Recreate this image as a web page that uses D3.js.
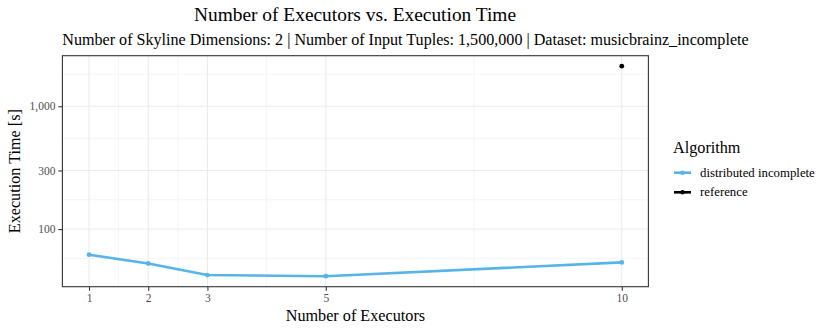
<!DOCTYPE html>
<html><head><meta charset="utf-8">
<script src="https://cdn.jsdelivr.net/npm/d3@7"></script>
<style>body{margin:0;background:#fff}svg{display:block}text{font-family:"Liberation Serif","Times New Roman",serif}</style>
</head><body><svg id="c" width="830" height="332"></svg>
<script>
const executors = [1, 2, 3, 5, 10];
const distributedIncomplete = [61.8, 52.4, 42.2, 41.3, 53.5];
const referenceX = [10];
const referenceY = [2120];
const xTicks = [1, 2, 3, 5, 10];
const xMinor = [1.5, 2.5, 4, 7.5];
const yTicks = [100, 300, 1000];
const yMinor = [57.7, 173.2, 547.7, 1826];
const seriesNames = ["distributed incomplete", "reference"];
const seriesColors = ["#56B4E9", "#000000"];

const svg = d3.select("#c");
const L = 62.4, R = 648.4, T = 55.7, B = 286.7;
const x = d3.scaleLinear().domain([0.55, 10.45]).range([L, R]);
const allY = distributedIncomplete.concat(referenceY);
const lo = Math.log10(d3.min(allY)), hi = Math.log10(d3.max(allY)), pad = (hi - lo) * 0.05;
const y = d3.scaleLog().domain([Math.pow(10, lo - pad), Math.pow(10, hi + pad)]).range([B, T]);

const g = svg.append("g");
g.append("rect").attr("x", L).attr("y", T).attr("width", R - L).attr("height", B - T).attr("fill", "#fff");
g.selectAll(".mx").data(xMinor).join("line").attr("x1", d => x(d)).attr("x2", d => x(d)).attr("y1", T).attr("y2", B).attr("stroke", "#ebebeb").attr("stroke-width", 0.55);
g.selectAll(".my").data(yMinor.filter(v => y(v) > T && y(v) < B)).join("line").attr("y1", d => y(d)).attr("y2", d => y(d)).attr("x1", L).attr("x2", R).attr("stroke", "#ebebeb").attr("stroke-width", 0.55);
g.selectAll(".gx").data(xTicks).join("line").attr("x1", d => x(d)).attr("x2", d => x(d)).attr("y1", T).attr("y2", B).attr("stroke", "#ebebeb").attr("stroke-width", 1.1);
g.selectAll(".gy").data(yTicks).join("line").attr("y1", d => y(d)).attr("y2", d => y(d)).attr("x1", L).attr("x2", R).attr("stroke", "#ebebeb").attr("stroke-width", 1.1);

const pts = executors.map((e, i) => [e, distributedIncomplete[i]]);
g.append("path").datum(pts).attr("fill", "none").attr("stroke", seriesColors[0]).attr("stroke-width", 2.6)
  .attr("stroke-linejoin", "round").attr("d", d3.line().x(d => x(d[0])).y(d => y(d[1])));
g.selectAll(".p1").data(pts).join("circle").attr("cx", d => x(d[0])).attr("cy", d => y(d[1])).attr("r", 2.4).attr("fill", seriesColors[0]);
g.selectAll(".p2").data(referenceX.map((v, i) => [v, referenceY[i]])).join("circle").attr("cx", d => x(d[0])).attr("cy", d => y(d[1])).attr("r", 2.4).attr("fill", seriesColors[1]);

g.append("rect").attr("x", L).attr("y", T).attr("width", R - L).attr("height", B - T).attr("fill", "none").attr("stroke", "#333").attr("stroke-width", 1.1);

const xa = svg.append("g").attr("transform", `translate(0,${B})`).call(d3.axisBottom(x).tickValues(xTicks).tickSize(4).tickPadding(3).tickFormat(d3.format("d")));
const ya = svg.append("g").attr("transform", `translate(${L},0)`).call(d3.axisLeft(y).tickValues(yTicks).tickSize(4).tickPadding(3).tickFormat(d3.format(",")));
[xa, ya].forEach(a => {
  a.select(".domain").remove();
  a.selectAll(".tick line").attr("stroke", "#333").attr("stroke-width", 1.1);
  a.selectAll(".tick text").attr("fill", "#4d4d4d").style("font-size", "11.5px").style("font-family", "Liberation Serif");
});

svg.append("text").attr("x", 355).attr("y", 21).attr("text-anchor", "middle").style("font-size", "19.4px").text("Number of Executors vs. Execution Time");
svg.append("text").attr("x", 405.5).attr("y", 45).attr("text-anchor", "middle").style("font-size", "16.1px")
  .text("Number of Skyline Dimensions: 2 | Number of Input Tuples: 1,500,000 | Dataset: musicbrainz_incomplete");
svg.append("text").attr("x", (L + R) / 2).attr("y", 321).attr("text-anchor", "middle").style("font-size", "16.2px").text("Number of Executors");
svg.append("text").attr("transform", `translate(20,${(T + B) / 2}) rotate(-90)`).attr("text-anchor", "middle").style("font-size", "16.2px").text("Execution Time [s]");

const lg = svg.append("g");
lg.append("text").attr("x", 673).attr("y", 153).style("font-size", "16.2px").text("Algorithm");
seriesNames.forEach((n, i) => {
  const yy = 172.7 + i * 19.6;
  lg.append("line").attr("x1", 674).attr("x2", 691).attr("y1", yy).attr("y2", yy).attr("stroke", seriesColors[i]).attr("stroke-width", 2.6);
  lg.append("circle").attr("cx", 682.5).attr("cy", yy).attr("r", 2.2).attr("fill", seriesColors[i]);
  lg.append("text").attr("x", 700).attr("y", yy + 4).style("font-size", "12.8px").text(n);
});
</script></body></html>
